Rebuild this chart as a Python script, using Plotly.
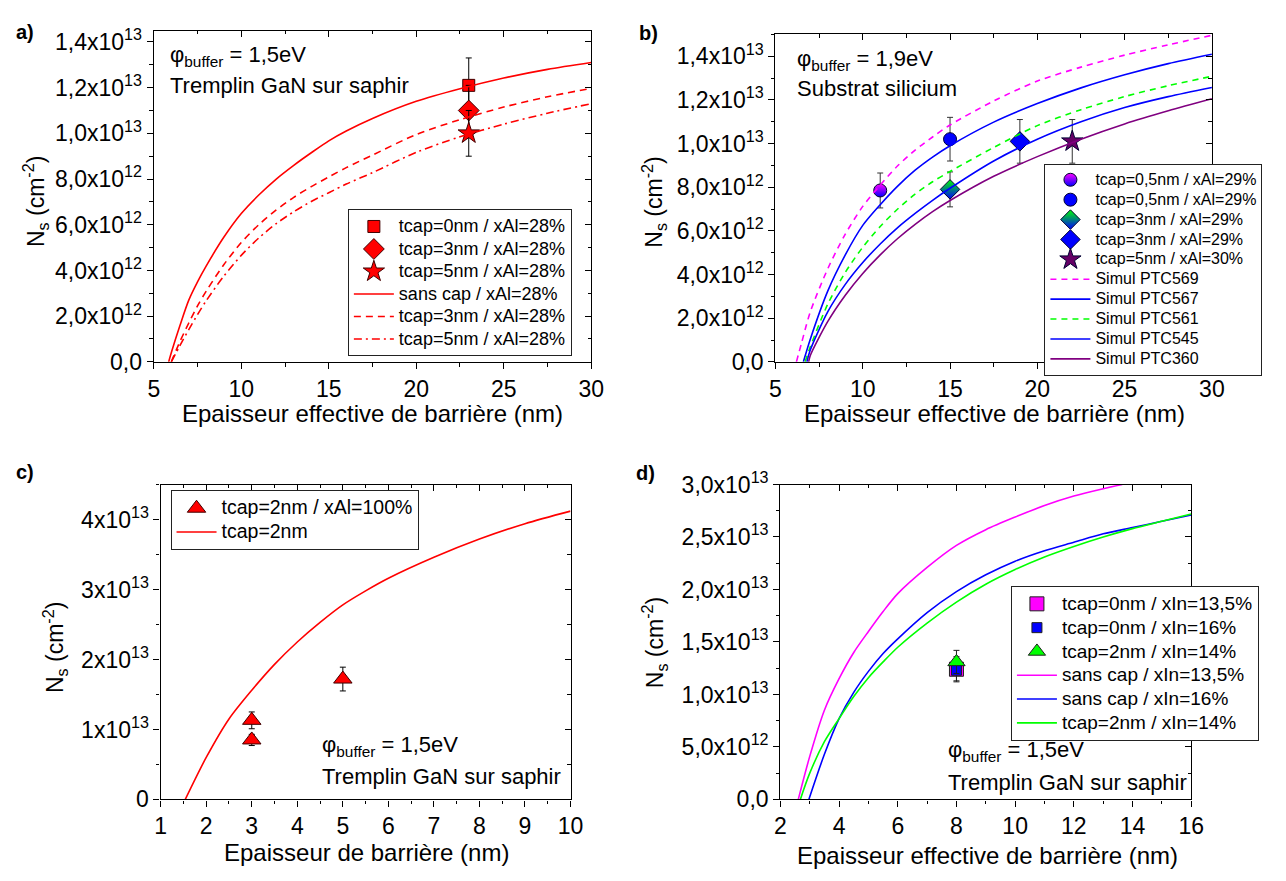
import plotly.graph_objects as go

W, H = 1286, 881
FONT = "Liberation Sans, Arial, sans-serif"

# ---------------- data: panel a ----------------
a_pts_x = [23, 23, 23]
a_pts_y = [1.21e13, 1.10e13, 1.00e13]
a_pts_err = [1.2e12, 1.1e12, 1.0e12]
a_pts_names = ["tcap=0nm / xAl=28%", "tcap=3nm / xAl=28%", "tcap=5nm / xAl=28%"]
a_line_names = ["sans cap / xAl=28%", "tcap=3nm / xAl=28%", "tcap=5nm / xAl=28%"]

a_sans_x = [5.85, 6, 6.5, 7, 7.5, 8, 9, 10, 11, 12, 13, 14, 15, 16, 17.5, 20, 22.5, 25, 27.5, 30]
a_sans_y = [0, 0.4e12, 1.6e12, 2.7e12, 3.5e12, 4.2e12, 5.45e12, 6.49e12, 7.3e12, 8.0e12,
            8.6e12, 9.15e12, 9.67e12, 10.1e12, 10.65e12, 11.4e12, 11.95e12, 12.42e12,
            12.8e12, 13.1e12]
a_t3_x = [6.0, 6.5, 7, 7.5, 8, 9, 10, 11, 12, 13, 14, 15, 16, 17.5, 20, 22.5, 25, 27.5, 30]
a_t3_y = [0, 0.9e12, 1.7e12, 2.45e12, 3.1e12, 4.25e12, 5.22e12, 6.0e12, 6.65e12, 7.2e12,
          7.67e12, 8.09e12, 8.5e12, 9.05e12, 9.95e12, 10.6e12, 11.15e12, 11.6e12, 11.97e12]
a_t5_x = [6.0, 6.5, 7, 7.5, 8, 9, 10, 11, 12, 13, 14, 15, 16, 17.5, 20, 22.5, 25, 27.5, 30]
a_t5_y = [0, 0.72e12, 1.41e12, 2.07e12, 2.68e12, 3.75e12, 4.66e12, 5.42e12, 6.05e12,
          6.57e12, 7.02e12, 7.4e12, 7.78e12, 8.28e12, 9.17e12, 9.85e12, 10.4e12,
          10.88e12, 11.3e12]

# ---------------- data: panel b ----------------
b_pts_x = [11, 15, 15, 19, 22]
b_pts_y = [7.85e12, 1.02e13, 7.9e12, 1.01e13, 1.01e13]
b_pts_err = [0.8e12, 1.0e12, 0.8e12, 1.0e12, 1.0e12]
b_pts_names = ["tcap=0,5nm / xAl=29%", "tcap=0,5nm / xAl=29%", "tcap=3nm / xAl=29%",
               "tcap=3nm / xAl=29%", "tcap=5nm / xAl=30%"]
b_line_names = ["Simul PTC569", "Simul PTC567", "Simul PTC561", "Simul PTC545", "Simul PTC360"]

b_569_x = [6.2, 6.5, 7, 8, 9, 10, 11, 12, 13, 14, 15, 17.5, 20, 22.5, 25, 27.5, 30]
b_569_y = [0, 0.88e12, 2.3e12, 4.27e12, 5.85e12, 7.12e12, 8.1e12, 8.98e12, 9.7e12,
           10.3e12, 10.85e12, 11.95e12, 12.86e12, 13.5e12, 14.05e12, 14.52e12, 14.96e12]
b_567_x = [6.6, 7, 8, 9, 10, 11, 12, 13, 14, 15, 17.5, 20, 22.5, 25, 27.5, 30]
b_567_y = [0, 1.05e12, 3.25e12, 4.9e12, 6.25e12, 7.2e12, 8.05e12, 8.78e12, 9.38e12,
           9.9e12, 10.98e12, 11.83e12, 12.55e12, 13.15e12, 13.66e12, 14.09e12]
b_561_x = [6.7, 7, 8, 9, 10, 11, 12, 13, 14, 15, 17.5, 20, 22.5, 25, 27.5, 30]
b_561_y = [0, 0.7e12, 2.65e12, 4.1e12, 5.25e12, 6.2e12, 7.0e12, 7.68e12, 8.25e12,
           8.72e12, 9.82e12, 10.82e12, 11.55e12, 12.15e12, 12.65e12, 13.08e12]
b_545_x = [6.8, 7, 8, 9, 10, 11, 12, 13, 14, 15, 17.5, 20, 22.5, 25, 27.5, 30]
b_545_y = [0, 0.55e12, 2.3e12, 3.55e12, 4.55e12, 5.4e12, 6.15e12, 6.8e12, 7.4e12,
           7.95e12, 9.2e12, 10.2e12, 11.0e12, 11.65e12, 12.15e12, 12.57e12]
b_360_x = [6.9, 7, 8, 9, 10, 11, 12, 13, 14, 15, 17.5, 20, 22.5, 25, 27.5, 30]
b_360_y = [0, 0.3e12, 1.85e12, 3.05e12, 4.05e12, 4.9e12, 5.65e12, 6.3e12, 6.88e12,
           7.39e12, 8.5e12, 9.4e12, 10.2e12, 10.9e12, 11.5e12, 12.05e12]

# ---------------- data: panel c ----------------
c_pts_x = [3, 3, 5]
c_pts_y = [1.13e13, 0.85e13, 1.72e13]
c_pts_err = [0.12e13, 0.08e13, 0.17e13]
c_names = ["tcap=2nm / xAl=100%", "tcap=2nm"]
c_line_x = [1.54, 2, 2.5, 3, 3.5, 4, 4.5, 5, 5.5, 6, 7, 8, 9, 10]
c_line_y = [0, 0.6e13, 1.15e13, 1.56e13, 1.93e13, 2.25e13, 2.53e13, 2.78e13, 2.98e13,
            3.16e13, 3.46e13, 3.72e13, 3.94e13, 4.12e13]

# ---------------- data: panel d ----------------
d_pts_x = [8, 8, 8]
d_pts_y = [1.24e13, 1.23e13, 1.31e13]
d_pts_err = [0.12e13, 0.10e13, 0.11e13]
d_pts_names = ["tcap=0nm / xIn=13,5%", "tcap=0nm / xIn=16%", "tcap=2nm / xIn=14%"]
d_line_names = ["sans cap / xIn=13,5%", "sans cap / xIn=16%", "tcap=2nm / xIn=14%"]
d_mag_x = [2.61, 3, 3.5, 4, 4.5, 5, 5.5, 6, 7, 8, 9, 10, 11, 12, 13, 13.65]
d_mag_y = [0, 0.41e13, 0.85e13, 1.15e13, 1.4e13, 1.6e13, 1.79e13, 1.96e13, 2.21e13,
           2.42e13, 2.57e13, 2.69e13, 2.8e13, 2.89e13, 2.96e13, 3.0e13]
d_blue_x = [2.97, 3.5, 4, 4.5, 5, 5.5, 6, 7, 8, 9, 10, 11, 12, 13, 14, 15, 16]
d_blue_y = [0, 0.43e13, 0.77e13, 1.02e13, 1.22e13, 1.39e13, 1.53e13, 1.78e13, 1.98e13,
            2.14e13, 2.27e13, 2.37e13, 2.45e13, 2.53e13, 2.59e13, 2.65e13, 2.71e13]
d_green_x = [2.68, 3, 3.5, 4, 4.5, 5, 5.5, 6, 7, 8, 9, 10, 11, 12, 13, 14, 15, 16]
d_green_y = [0, 0.25e13, 0.55e13, 0.77e13, 0.98e13, 1.16e13, 1.31e13, 1.45e13, 1.68e13,
             1.88e13, 2.05e13, 2.19e13, 2.31e13, 2.41e13, 2.5e13, 2.58e13, 2.65e13, 2.72e13]

# ---------------- tick labels ----------------
ab_ytv = [0, 2e12, 4e12, 6e12, 8e12, 1e13, 1.2e13, 1.4e13]
ab_ytt = ["0,0", "2,0x10<sup>12</sup>", "4,0x10<sup>12</sup>", "6,0x10<sup>12</sup>",
          "8,0x10<sup>12</sup>", "1,0x10<sup>13</sup>", "1,2x10<sup>13</sup>",
          "1,4x10<sup>13</sup>"]
c_ytv = [0, 1e13, 2e13, 3e13, 4e13]
c_ytt = ["0", "1x10<sup>13</sup>", "2x10<sup>13</sup>", "3x10<sup>13</sup>", "4x10<sup>13</sup>"]
d_ytv = [0, 5e12, 1e13, 1.5e13, 2e13, 2.5e13, 3e13]
d_ytt = ["0,0", "5,0x10<sup>12</sup>", "1,0x10<sup>13</sup>", "1,5x10<sup>13</sup>",
         "2,0x10<sup>13</sup>", "2,5x10<sup>13</sup>", "3,0x10<sup>13</sup>"]

fig = go.Figure()
OUT = "#400000"


def err(arr, col="black"):
    return dict(type="data", array=arr, color=col, thickness=1, width=3)


def big(name, px):
    return "<span style='font-size:%gpx'>%s</span>" % (px, name)


# panel a
a_sym = ["square", "diamond", "star"]
a_size = [12, 16, 16]
for i in range(3):
    fig.add_trace(go.Scatter(x=[a_pts_x[i]], y=[a_pts_y[i]], mode="markers",
                             name=big(a_pts_names[i], 18), legend="legend",
                             marker=dict(symbol=a_sym[i], size=a_size[i], color="#FF0000",
                                         line=dict(color=OUT, width=1)),
                             error_y=err([a_pts_err[i]]), xaxis="x", yaxis="y"))
for xs, ys, nm, dash in [(a_sans_x, a_sans_y, a_line_names[0], "solid"),
                         (a_t3_x, a_t3_y, a_line_names[1], "7px,5px"),
                         (a_t5_x, a_t5_y, a_line_names[2], "8px,4px,2px,4px")]:
    fig.add_trace(go.Scatter(x=xs, y=ys, mode="lines", name=big(nm, 18), legend="legend",
                             line=dict(color="#FF0000", width=1.6, dash=dash,
                                       shape="spline", smoothing=0.8),
                             xaxis="x", yaxis="y"))

# panel b
b_sym = ["circle", "circle", "diamond", "diamond", "star"]
b_col = ["#FF00FF", "#0000FF", "#00FF00", "#0000FF", "#660066"]
b_grad = ["#0000FF", None, "#0000FF", None, None]
b_size = [13, 13, 15, 15, 16]
for i in range(5):
    mk = dict(symbol=b_sym[i], size=b_size[i], color=b_col[i],
              line=dict(color="#000033", width=1))
    if b_grad[i]:
        mk["gradient"] = dict(type="vertical", color=b_grad[i])
    fig.add_trace(go.Scatter(x=[b_pts_x[i]], y=[b_pts_y[i]], mode="markers",
                             name=big(b_pts_names[i], 16), legend="legend2", marker=mk,
                             error_y=err([b_pts_err[i]], "#333333"), xaxis="x2", yaxis="y2"))
for xs, ys, nm, col, dash in [(b_569_x, b_569_y, b_line_names[0], "#FF00FF", "6px,5px"),
                              (b_567_x, b_567_y, b_line_names[1], "#0000FF", "solid"),
                              (b_561_x, b_561_y, b_line_names[2], "#00FF00", "6px,5px"),
                              (b_545_x, b_545_y, b_line_names[3], "#0000FF", "solid"),
                              (b_360_x, b_360_y, b_line_names[4], "#800080", "solid")]:
    fig.add_trace(go.Scatter(x=xs, y=ys, mode="lines", name=big(nm, 16), legend="legend2",
                             line=dict(color=col, width=1.6, dash=dash,
                                       shape="spline", smoothing=0.8),
                             xaxis="x2", yaxis="y2"))

# panel c
fig.add_trace(go.Scatter(x=c_pts_x, y=c_pts_y, mode="markers", name=big(c_names[0], 19.5),
                         legend="legend3",
                         marker=dict(symbol="triangle-up", size=16, color="#FF0000",
                                     line=dict(color=OUT, width=1)),
                         error_y=err(c_pts_err), xaxis="x3", yaxis="y3"))
fig.add_trace(go.Scatter(x=c_line_x, y=c_line_y, mode="lines", name=big(c_names[1], 19.5),
                         legend="legend3",
                         line=dict(color="#FF0000", width=1.6, shape="spline", smoothing=0.8),
                         xaxis="x3", yaxis="y3"))

# panel d
d_sym = ["square", "square", "triangle-up"]
d_col = ["#FF00FF", "#0000FF", "#00FF00"]
d_size = [14, 10, 15]
for i in range(3):
    fig.add_trace(go.Scatter(x=[d_pts_x[i]], y=[d_pts_y[i]], mode="markers",
                             name=big(d_pts_names[i], 19), legend="legend4",
                             marker=dict(symbol=d_sym[i], size=d_size[i], color=d_col[i],
                                         line=dict(color="#202020", width=1)),
                             error_y=err([d_pts_err[i]], "#202020"), xaxis="x4", yaxis="y4"))
for xs, ys, nm, col in [(d_mag_x, d_mag_y, d_line_names[0], "#FF00FF"),
                        (d_blue_x, d_blue_y, d_line_names[1], "#0000FF"),
                        (d_green_x, d_green_y, d_line_names[2], "#00FF00")]:
    fig.add_trace(go.Scatter(x=xs, y=ys, mode="lines", name=big(nm, 19), legend="legend4",
                             line=dict(color=col, width=1.6, shape="spline", smoothing=0.8),
                             xaxis="x4", yaxis="y4"))

# ---------------- axes ----------------
panels = [
    dict(xd=(150, 594), yd=(14, 357), xr=[5, 30], xdt=5, xm=2.5,
         yr=[0, 1.45e13], ytv=ab_ytv, ytt=ab_ytt, ym=1e12),
    dict(xd=(781, 1224), yd=(18, 357), xr=[5, 30], xdt=5, xm=2.5,
         yr=[0, 1.5e13], ytv=ab_ytv, ytt=ab_ytt, ym=1e12),
    dict(xd=(157, 573), yd=(484, 810), xr=[1, 10], xdt=1, xm=0.5,
         yr=[0, 4.5e13], ytv=c_ytv, ytt=c_ytt, ym=5e12),
    dict(xd=(786, 1203), yd=(484, 810), xr=[2, 16], xdt=2, xm=1,
         yr=[0, 3.0e13], ytv=d_ytv, ytt=d_ytt, ym=2.5e12),
]

TICKF = dict(family=FONT, size=23, color="black")
lay = {}
for i, p in enumerate(panels, start=1):
    s = "" if i == 1 else str(i)
    o = str(i + 4)
    xdom = [p["xd"][0] / W, p["xd"][1] / W]
    ydom = [1 - p["yd"][1] / H, 1 - p["yd"][0] / H]
    common_x = dict(range=p["xr"], tickmode="linear", tick0=p["xr"][0], dtick=p["xdt"],
                    ticklen=6, tickwidth=1.2, tickcolor="black", showgrid=False,
                    zeroline=False)
    common_y = dict(range=p["yr"], tickmode="array", tickvals=p["ytv"], ticktext=p["ytt"],
                    ticklen=6, tickwidth=1.2, tickcolor="black", showgrid=False,
                    zeroline=False)
    lay["xaxis" + s] = dict(common_x, domain=xdom, anchor="y" + s, ticks="outside",
                            showline=True, linecolor="black", linewidth=1.4, mirror=True,
                            tickfont=TICKF,
                            minor=dict(ticks="outside", ticklen=3.5, dtick=p["xm"],
                                       tick0=p["xr"][0], tickcolor="black", tickwidth=1))
    lay["yaxis" + s] = dict(common_y, domain=ydom, anchor="x" + s, ticks="outside",
                            showline=True, linecolor="black", linewidth=1.4, mirror=True,
                            tickfont=TICKF,
                            minor=dict(ticks="outside", ticklen=3.5, dtick=p["ym"], tick0=0,
                                       tickcolor="black", tickwidth=1))
    lay["xaxis" + o] = dict(common_x, overlaying="x" + s, anchor="y" + s, side="top",
                            ticks="inside", showticklabels=False, showline=False,
                            minor=dict(ticks="inside", ticklen=3.5, dtick=p["xm"],
                                       tick0=p["xr"][0], tickcolor="black", tickwidth=1))
    lay["yaxis" + o] = dict(common_y, overlaying="y" + s, anchor="x" + s, side="right",
                            ticks="inside", showticklabels=False, showline=False,
                            minor=dict(ticks="inside", ticklen=3.5, dtick=p["ym"], tick0=0,
                                       tickcolor="black", tickwidth=1))
    fig.add_trace(go.Scatter(x=[None], y=[None], xaxis="x" + o, yaxis="y" + o,
                             showlegend=False, hoverinfo="skip"))

fig.update_layout(**lay)


def leg(x, y, size, iw=40):
    return dict(x=x / W, y=1 - y / H, xanchor="left", yanchor="top", bgcolor="white",
                bordercolor="#222222", borderwidth=1,
                font=dict(family=FONT, size=size, color="black"),
                tracegroupgap=0, itemwidth=iw)


fig.update_layout(
    width=W, height=H, margin=dict(l=0, r=0, t=0, b=0),
    paper_bgcolor="white", plot_bgcolor="white",
    font=dict(family=FONT, color="black"),
    legend=leg(347, 199, 15),
    legend2=leg(1054, 152, 13),
    legend3=leg(167, 490, 16),
    legend4=leg(1020, 589, 16),
)

ann = []


def text(x, y, t, size, xanchor="left", yanchor="middle", angle=0):
    ann.append(dict(x=x / W, y=1 - y / H, xref="paper", yref="paper", text=t,
                    showarrow=False, xanchor=xanchor, yanchor=yanchor, textangle=angle,
                    font=dict(family=FONT, size=size, color="black")))


# panel labels
for lx, ly, lt in [(19, 16, "a)"), (652, 17, "b)"), (19, 471, "c)"), (649, 472, "d)")]:
    text(lx, ly, "<b>" + lt + "</b>", 20, xanchor="center")

# x titles
text(372, 410, "Epaisseur effective de barrière (nm)", 24, xanchor="center")
text(1003, 410, "Epaisseur effective de barrière (nm)", 24, xanchor="center")
text(366, 865, "Epaisseur de barrière (nm)", 24, xanchor="center")
text(996, 868, "Epaisseur effective de barrière (nm)", 24, xanchor="center")

# y titles
ytitle = "N<sub>s</sub> (cm<sup>-2</sup>)"
text(30, 191, ytitle, 23, xanchor="center", angle=-90)
text(658, 192, ytitle, 23, xanchor="center", angle=-90)
text(49, 653, ytitle, 23, xanchor="center", angle=-90)
text(658, 648, ytitle, 23, xanchor="center", angle=-90)

# in-plot texts
text(164, 40, "φ<sub>buffer</sub> = 1,5eV", 22)
text(164, 71, "Tremplin GaN sur saphir", 22)
text(801, 44, "φ<sub>buffer</sub> = 1,9eV", 22)
text(801, 74, "Substrat silicium", 22)
text(319, 755, "φ<sub>buffer</sub> = 1,5eV", 22)
text(319, 786, "Tremplin GaN sur saphir", 22)
text(954, 760, "φ<sub>buffer</sub> = 1,5eV", 22)
text(954, 792, "Tremplin GaN sur saphir", 22)

fig.update_layout(annotations=ann)

fig.write_html("out.html", config={"displayModeBar": False},
               post_script="document.body.style.margin='0';document.body.style.overflow='hidden';")
